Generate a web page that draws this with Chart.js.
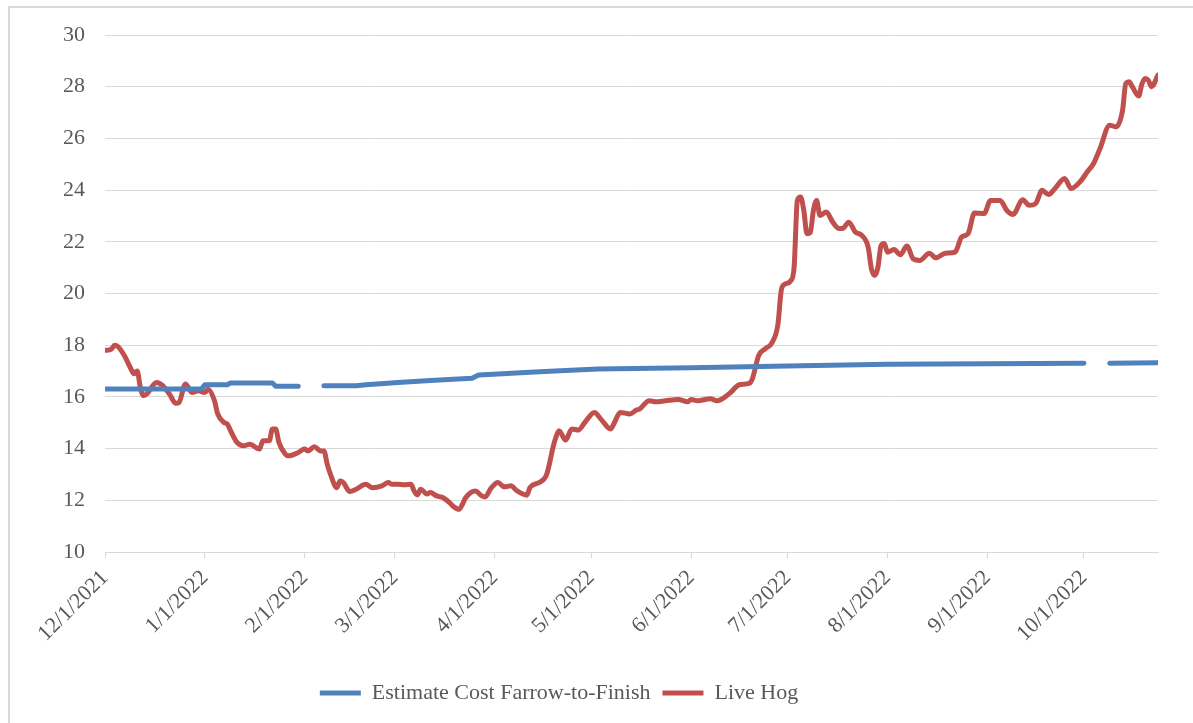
<!DOCTYPE html>
<html>
<head>
<meta charset="utf-8">
<title>Live Hog vs Estimate Cost Farrow-to-Finish</title>
<script src="https://cdn.jsdelivr.net/npm/chart.js@4/dist/chart.umd.min.js"></script>
<style>
  html, body { margin: 0; padding: 0; background: #fff; overflow: hidden; }
  #wrap { position: relative; width: 1193px; height: 723px; }
  #frame { position: absolute; left: 8px; top: 6px; width: 1300px; height: 800px;
           border-left: 2px solid #d9d9d9; border-top: 2px solid #d9d9d9; }
  #chart { position: absolute; left: 0; top: 0; }
</style>
</head>
<body>
<div id="wrap">
  <div id="frame"></div>
  <canvas id="chart" width="1193" height="723"></canvas>
</div>
<script>
// data
const seriesNames = ['Estimate Cost Farrow-to-Finish', 'Live Hog'];

const xTickDates = ['2021-12-01', '2022-01-01', '2022-02-01', '2022-03-01', '2022-04-01', '2022-05-01',
    '2022-06-01', '2022-07-01', '2022-08-01', '2022-09-01', '2022-10-01'];
const xEndDate = '2022-10-24';
const yTicks = [10, 12, 14, 16, 18, 20, 22, 24, 26, 28, 30];

const costDates = ['2021-12-01', '2021-12-31', '2022-01-01', '2022-01-08', '2022-01-09', '2022-01-22',
    '2022-01-23', '2022-01-30', '2022-02-03', '2022-02-07', '2022-02-17', '2022-02-20', '2022-03-02',
    '2022-03-12', '2022-03-25', '2022-03-27', '2022-04-02', '2022-04-12', '2022-04-23', '2022-05-03',
    '2022-06-01', '2022-07-01', '2022-08-01', '2022-09-01', '2022-10-01', '2022-10-05', '2022-10-09',
    '2022-10-24'];
const costValues = [16.31, 16.31, 16.47, 16.47, 16.54, 16.54, 16.41, 16.41, null, 16.43, 16.43, 16.47,
    16.56, 16.63, 16.72, 16.85, 16.89, 16.95, 17.02, 17.08, 17.13, 17.2, 17.26, 17.28, 17.3, null,
    17.3, 17.32];

const hogDates = ['2021-12-01', '2021-12-03', '2021-12-04', '2021-12-05', '2021-12-07', '2021-12-09',
    '2021-12-10', '2021-12-11', '2021-12-12', '2021-12-13', '2021-12-14', '2021-12-17', '2021-12-19',
    '2021-12-21', '2021-12-23', '2021-12-24', '2021-12-26', '2021-12-28', '2021-12-30', '2022-01-01',
    '2022-01-02', '2022-01-04', '2022-01-05', '2022-01-07', '2022-01-08', '2022-01-09', '2022-01-11',
    '2022-01-13', '2022-01-15', '2022-01-18', '2022-01-19', '2022-01-21', '2022-01-22', '2022-01-23',
    '2022-01-24', '2022-01-26', '2022-01-27', '2022-01-30', '2022-02-01', '2022-02-02', '2022-02-04',
    '2022-02-06', '2022-02-07', '2022-02-08', '2022-02-09', '2022-02-11', '2022-02-12', '2022-02-13',
    '2022-02-15', '2022-02-17', '2022-02-20', '2022-02-22', '2022-02-25', '2022-02-27', '2022-02-28',
    '2022-03-02', '2022-03-04', '2022-03-06', '2022-03-07', '2022-03-08', '2022-03-09', '2022-03-11',
    '2022-03-12', '2022-03-14', '2022-03-16', '2022-03-18', '2022-03-19', '2022-03-21', '2022-03-22',
    '2022-03-23', '2022-03-26', '2022-03-28', '2022-03-29', '2022-03-31', '2022-04-02', '2022-04-04',
    '2022-04-06', '2022-04-08', '2022-04-11', '2022-04-12', '2022-04-15', '2022-04-17', '2022-04-18',
    '2022-04-19', '2022-04-20', '2022-04-21', '2022-04-23', '2022-04-25', '2022-04-27', '2022-04-29',
    '2022-05-02', '2022-05-04', '2022-05-07', '2022-05-08', '2022-05-10', '2022-05-13', '2022-05-15',
    '2022-05-16', '2022-05-19', '2022-05-21', '2022-05-24', '2022-05-28', '2022-05-31', '2022-06-01',
    '2022-06-03', '2022-06-07', '2022-06-09', '2022-06-13', '2022-06-16', '2022-06-19', '2022-06-20',
    '2022-06-22', '2022-06-24', '2022-06-26', '2022-06-28', '2022-06-29', '2022-06-30', '2022-07-02',
    '2022-07-03', '2022-07-04', '2022-07-05', '2022-07-06', '2022-07-07', '2022-07-08', '2022-07-09',
    '2022-07-10', '2022-07-11', '2022-07-13', '2022-07-15', '2022-07-17', '2022-07-18', '2022-07-20',
    '2022-07-22', '2022-07-24', '2022-07-26', '2022-07-27', '2022-07-28', '2022-07-29', '2022-07-30',
    '2022-07-31', '2022-08-01', '2022-08-03', '2022-08-05', '2022-08-07', '2022-08-09', '2022-08-11',
    '2022-08-14', '2022-08-16', '2022-08-19', '2022-08-22', '2022-08-24', '2022-08-26', '2022-08-28',
    '2022-08-31', '2022-09-02', '2022-09-05', '2022-09-07', '2022-09-09', '2022-09-12', '2022-09-14',
    '2022-09-16', '2022-09-18', '2022-09-20', '2022-09-22', '2022-09-25', '2022-09-27', '2022-09-30',
    '2022-10-02', '2022-10-04', '2022-10-06', '2022-10-09', '2022-10-11', '2022-10-13', '2022-10-14',
    '2022-10-15', '2022-10-16', '2022-10-18', '2022-10-19', '2022-10-20', '2022-10-21', '2022-10-22',
    '2022-10-24'];
const hogPrices = [17.8, 17.85, 18.0, 17.95, 17.6, 17.1,
    16.9, 17.0, 16.35, 16.05, 16.12, 16.56, 16.43,
    16.11, 15.75, 15.79, 16.5, 16.17, 16.24, 16.17,
    16.3, 15.85, 15.34, 15.01, 14.95, 14.69, 14.24,
    14.11, 14.17, 13.98, 14.3, 14.3, 14.76, 14.76,
    14.24, 13.79, 13.72, 13.85, 13.98, 13.91, 14.07,
    13.91, 13.91, 13.4, 13.01, 12.49, 12.75, 12.69,
    12.34, 12.43, 12.62, 12.49, 12.56, 12.69, 12.62,
    12.62, 12.6, 12.62, 12.36, 12.21, 12.43, 12.24,
    12.3, 12.17, 12.1, 11.91, 11.78, 11.65, 11.85,
    12.1, 12.36, 12.17, 12.13, 12.49, 12.69, 12.52,
    12.56, 12.36, 12.2, 12.5, 12.7, 12.95, 13.4,
    13.98, 14.43, 14.69, 14.33, 14.76, 14.72, 15.01,
    15.4, 15.14, 14.76, 14.95, 15.4, 15.34, 15.49,
    15.53, 15.85, 15.81, 15.85, 15.9, 15.81, 15.9,
    15.85, 15.93, 15.85, 16.14, 16.47, 16.52, 16.69,
    17.6, 17.86, 18.07, 18.83, 20.12, 20.35, 20.5,
    21.02, 23.6, 23.73, 23.22, 22.31, 22.35, 23.22,
    23.6, 23.02, 23.15, 22.76, 22.51, 22.51, 22.76,
    22.38, 22.25, 21.79, 20.96, 20.7, 21.0, 21.85,
    21.93, 21.6, 21.7, 21.5, 21.84, 21.34, 21.28,
    21.56, 21.38, 21.56, 21.6, 22.18, 22.31, 23.11,
    23.09, 23.6, 23.6, 23.22, 23.06, 23.63, 23.41,
    23.48, 23.99, 23.83, 24.06, 24.45, 24.06, 24.35,
    24.7, 25.03, 25.61, 26.51, 26.45, 27.09, 28.13,
    28.19, 28.0, 27.64, 28.1, 28.32, 28.25, 28.0,
    28.45];

// days since the first date, used as the x value
const startMs = Date.UTC(2021, 11, 1);
function dayOf(s) {
    const [y, m, d] = s.split('-').map(Number);
    return Math.round((Date.UTC(y, m - 1, d) - startMs) / 86400000);
}
function fmtDate(s) {
    const [y, m, d] = s.split('-').map(Number);
    return m + '/' + d + '/' + y;
}
const xTickDays = xTickDates.map(dayOf);

const toPoints = (dates, vals) => dates.map((d, i) => ({ x: dayOf(d), y: vals[i] }));

const serif = "'Liberation Serif', 'Times New Roman', serif";
Chart.defaults.font.family = serif;
Chart.defaults.font.size = 22;
Chart.defaults.color = '#595959';

// nudge the legend a little left, like the original
const legendShift = {
    id: 'legendShift',
    afterLayout(chart) {
        chart.legend.left -= 20;
        chart.legend.right -= 20;
    },
};

const ctx = document.getElementById('chart').getContext('2d');
new Chart(ctx, {
    type: 'line',
    data: {
        datasets: [
            {
                label: seriesNames[0],
                data: toPoints(costDates, costValues),
                borderColor: '#4f81bd',
                backgroundColor: '#4f81bd',
                borderWidth: 5,
                pointRadius: 0,
                tension: 0,
                spanGaps: false,
                borderCapStyle: 'round',
                borderJoinStyle: 'round',
            },
            {
                label: seriesNames[1],
                data: toPoints(hogDates, hogPrices),
                borderColor: '#c0504d',
                backgroundColor: '#c0504d',
                borderWidth: 5,
                pointRadius: 0,
                cubicInterpolationMode: 'monotone',
                borderCapStyle: 'round',
                borderJoinStyle: 'round',
            },
        ],
    },
    plugins: [legendShift],
    options: {
        responsive: false,
        animation: false,
        layout: { padding: { top: 35, right: 35, left: 0, bottom: 9 } },
        plugins: {
            tooltip: { enabled: false },
            legend: {
                position: 'bottom',
                labels: {
                    usePointStyle: true,
                    pointStyle: 'line',
                    pointStyleWidth: 41,
                    padding: 12,
                    color: '#595959',
                    font: { family: serif, size: 22 },
                },
            },
        },
        scales: {
            x: {
                type: 'linear',
                min: 0,
                max: dayOf(xEndDate),
                afterBuildTicks: (scale) => {
                    scale.ticks = xTickDays.map((v) => ({ value: v }));
                },
                afterFit: (scale) => { scale.height = 118; },
                ticks: {
                    autoSkip: false,
                    maxRotation: 45,
                    minRotation: 45,
                    padding: 7,
                    callback: (v) => {
                        const i = xTickDays.indexOf(v);
                        return i >= 0 ? fmtDate(xTickDates[i]) : '';
                    },
                },
                grid: {
                    drawOnChartArea: false,
                    drawTicks: true,
                    tickLength: 6,
                    color: '#d9d9d9',
                },
                border: { color: '#d9d9d9', width: 1 },
            },
            y: {
                min: yTicks[0],
                max: yTicks[yTicks.length - 1],
                afterBuildTicks: (scale) => {
                    scale.ticks = yTicks.map((v) => ({ value: v }));
                },
                afterFit: (scale) => { scale.width = 105; },
                ticks: { padding: 20 },
                grid: { color: '#d9d9d9', drawTicks: false, lineWidth: 1 },
                border: { display: false },
            },
        },
    },
});
</script>
</body>
</html>
